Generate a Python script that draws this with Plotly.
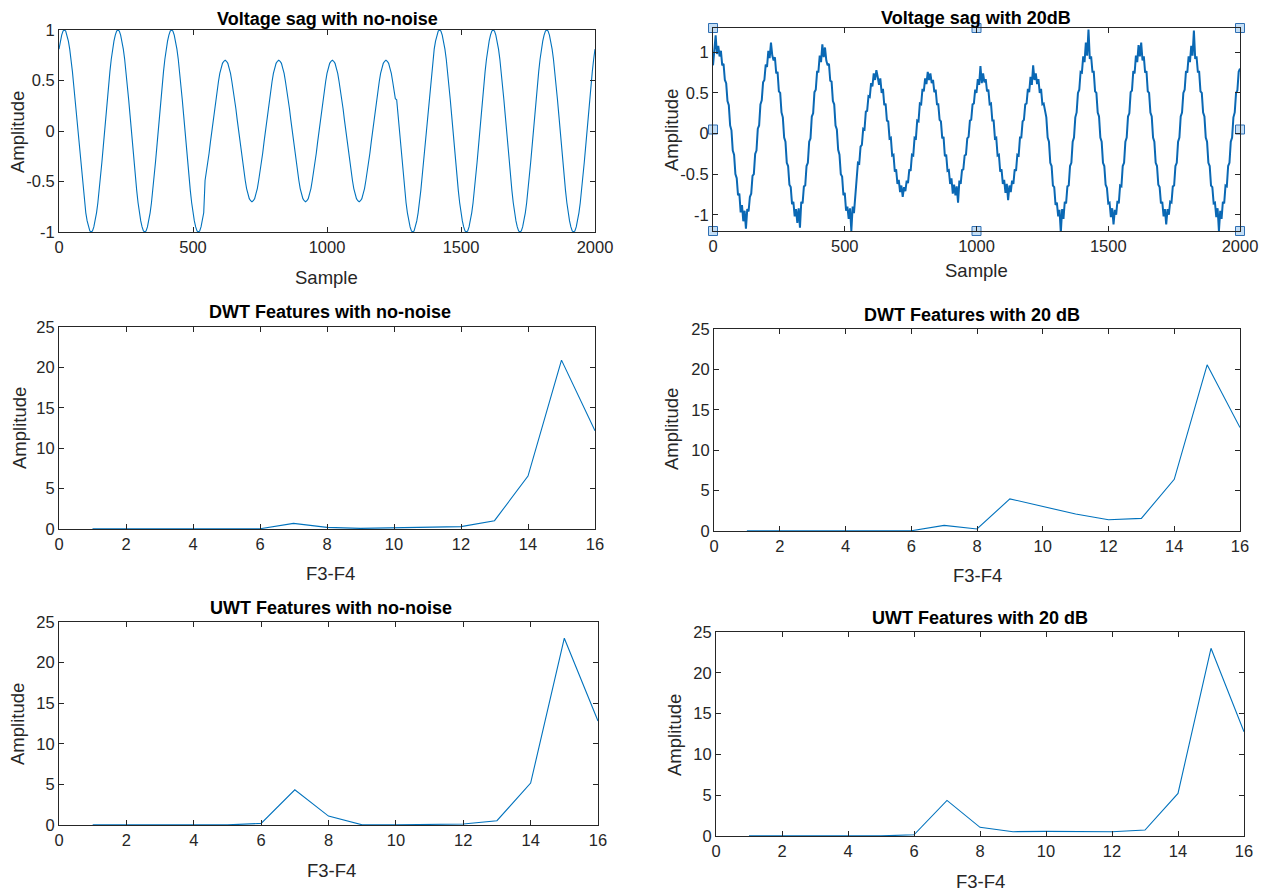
import plotly.graph_objects as go

W, H = 1268, 892
PAGE_OFF = 8  # default page margin around the figure
FIG_W, FIG_H = W - PAGE_OFF, H - PAGE_OFF

# ---------------- data ----------------
sample_idx = list(range(0, 2001, 5))

voltage_clean = [
 .81,.89,.95,.99,1,.99,.95,.89,.81,.71,.59,.45,.31,.16,0,-.16,-.31,-.45,-.59,-.71,-.81,-.89,-.95,-.99,-1,-.99,-.95,-.89,-.81,-.71,-.59,-.45,-.31,-.16,0,.16,.31,.45,.59,.71,
 .81,.89,.95,.99,1,.99,.95,.89,.81,.71,.59,.45,.31,.16,0,-.16,-.31,-.45,-.59,-.71,-.81,-.89,-.95,-.99,-1,-.99,-.95,-.89,-.81,-.71,-.59,-.45,-.31,-.16,0,.16,.31,.45,.59,.71,
 .81,.89,.95,.99,1,.99,.95,.89,.81,.71,.59,.45,.31,.16,0,-.16,-.31,-.45,-.59,-.71,-.81,-.89,-.95,-.99,-1,-.99,-.95,-.89,-.81,-.49,-.41,-.32,-.22,-.11,0,.11,.22,.32,.41,.49,
 .57,.62,.67,.69,.7,.69,.67,.62,.57,.49,.41,.32,.22,.11,0,-.11,-.22,-.32,-.41,-.49,-.57,-.62,-.67,-.69,-.7,-.69,-.67,-.62,-.57,-.49,-.41,-.32,-.22,-.11,0,.11,.22,.32,.41,.49,
 .57,.62,.67,.69,.7,.69,.67,.62,.57,.49,.41,.32,.22,.11,0,-.11,-.22,-.32,-.41,-.49,-.57,-.62,-.67,-.69,-.7,-.69,-.67,-.62,-.57,-.49,-.41,-.32,-.22,-.11,0,.11,.22,.32,.41,.49,
 .57,.62,.67,.69,.7,.69,.67,.62,.57,.49,.41,.32,.22,.11,0,-.11,-.22,-.32,-.41,-.49,-.57,-.62,-.67,-.69,-.7,-.69,-.67,-.62,-.57,-.49,-.41,-.32,-.22,-.11,0,.11,.22,.32,.41,.49,
 .57,.62,.67,.69,.7,.69,.67,.62,.57,.49,.41,.32,.31,.16,0,-.16,-.31,-.45,-.59,-.71,-.81,-.89,-.95,-.99,-1,-.99,-.95,-.89,-.81,-.71,-.59,-.45,-.31,-.16,0,.16,.31,.45,.59,.71,
 .81,.89,.95,.99,1,.99,.95,.89,.81,.71,.59,.45,.31,.16,0,-.16,-.31,-.45,-.59,-.71,-.81,-.89,-.95,-.99,-1,-.99,-.95,-.89,-.81,-.71,-.59,-.45,-.31,-.16,0,.16,.31,.45,.59,.71,
 .81,.89,.95,.99,1,.99,.95,.89,.81,.71,.59,.45,.31,.16,0,-.16,-.31,-.45,-.59,-.71,-.81,-.89,-.95,-.99,-1,-.99,-.95,-.89,-.81,-.71,-.59,-.45,-.31,-.16,0,.16,.31,.45,.59,.71,
 .81,.89,.95,.99,1,.99,.95,.89,.81,.71,.59,.45,.31,.16,0,-.16,-.31,-.45,-.59,-.71,-.81,-.89,-.95,-.99,-1,-.99,-.95,-.89,-.81,-.71,-.59,-.45,-.31,-.16,0,.16,.31,.45,.59,.71,
 .81,
]

voltage_20db = [
 .84,1.05,1.21,.98,1.08,.95,1.02,.84,.86,.66,.62,.40,.35,.10,.04,-.21,-.26,-.50,-.55,-.76,-.74,-.97,-.88,-1.08,-.95,-1.17,-.93,-.96,-.78,-.74,-.52,-.50,-.25,-.21,.06,.10,.36,.41,.63,.66,
 .85,.82,1.02,.93,1.12,.96,.90,.94,.74,.76,.52,.50,.26,.20,-.05,-.10,-.36,-.40,-.63,-.66,-.87,-.84,-1.02,-.93,-1.10,-.92,-1.16,-.84,-.86,-.65,-.64,-.40,-.36,-.10,-.06,.21,.25,.51,.54,.76,
 .76,.96,.88,1.10,.94,1.06,.90,.84,.86,.65,.64,.40,.36,.10,.05,-.20,-.26,-.50,-.53,-.76,-.73,-.95,-.90,-1.05,-.92,-1.20,-.90,-.98,-.74,-.55,-.36,-.37,-.16,-.14,.06,.05,.27,.28,.46,.45,
 .62,.58,.74,.66,.78,.70,.60,.68,.50,.55,.35,.37,.16,.15,-.06,-.05,-.27,-.26,-.47,-.44,-.62,-.57,-.72,-.64,-.78,-.66,-.71,-.58,-.61,-.44,-.46,-.26,-.27,-.05,-.06,.16,.15,.37,.36,.55,
 .52,.68,.61,.76,.66,.74,.62,.66,.51,.54,.36,.36,.17,.15,-.06,-.04,-.28,-.26,-.46,-.45,-.62,-.55,-.74,-.63,-.76,-.65,-.85,-.58,-.62,-.45,-.44,-.27,-.26,-.06,-.04,.16,.17,.36,.37,.54,
 .50,.67,.60,.83,.62,.74,.63,.67,.52,.54,.36,.37,.16,.16,-.06,-.05,-.27,-.26,-.47,-.44,-.62,-.57,-.73,-.62,-.82,-.64,-.72,-.58,-.62,-.44,-.46,-.26,-.27,-.05,-.05,.15,.17,.36,.37,.55,
 .51,.70,.60,.84,.66,.74,.61,.67,.50,.55,.36,.37,.27,.20,-.05,-.10,-.36,-.40,-.64,-.66,-.88,-.85,-1.02,-.94,-1.22,-.93,-1.05,-.84,-.86,-.65,-.64,-.40,-.36,-.10,-.05,.20,.26,.50,.54,.76,
 .75,.95,.88,1.12,.96,1.28,.92,.95,.76,.76,.52,.50,.26,.21,-.05,-.10,-.36,-.40,-.63,-.67,-.86,-.85,-1.03,-.92,-1.12,-.94,-1.00,-.83,-.86,-.64,-.65,-.40,-.36,-.10,-.05,.21,.25,.51,.53,.77,
 .74,.96,.88,1.09,.95,1.12,.90,.95,.75,.77,.52,.50,.26,.21,-.05,-.10,-.36,-.40,-.63,-.66,-.86,-.84,-1.02,-.93,-1.12,-.93,-1.00,-.84,-.85,-.65,-.64,-.40,-.36,-.10,-.05,.21,.26,.50,.54,.77,
 .75,.95,.88,1.08,.96,1.27,.92,.95,.76,.76,.52,.50,.26,.21,-.05,-.10,-.36,-.40,-.64,-.66,-.86,-.85,-1.03,-.92,-1.20,-.95,-1.05,-.84,-.86,-.64,-.65,-.40,-.36,-.10,-.05,.20,.26,.50,.53,.76,
 .80,
]

feature_idx = list(range(1, 17))
dwt_no_noise = [0.02, 0.02, 0.02, 0.02, 0.02, 0.03, 0.70, 0.20, 0.08, 0.15, 0.28, 0.30, 1.03, 6.55, 20.9, 12.15]
dwt_20db = [0.02, 0.02, 0.02, 0.02, 0.02, 0.03, 0.70, 0.25, 3.98, 3.00, 2.10, 1.40, 1.56, 6.40, 20.57, 12.8]
uwt_no_noise = [0.01, 0.01, 0.01, 0.01, 0.01, 0.20, 4.34, 1.10, 0.02, 0.02, 0.03, 0.12, 0.53, 5.16, 23.0, 12.8]
uwt_20db = [0.01, 0.01, 0.01, 0.01, 0.01, 0.15, 4.36, 1.06, 0.53, 0.57, 0.57, 0.53, 0.73, 5.22, 23.0, 12.77]

sample_ticks = [0, 500, 1000, 1500, 2000]
volt_ticks = [-1, -0.5, 0, 0.5, 1]
volt_ticktext = ["-1", "-0.5", "0", "0.5", "1"]
feat_xticks = [0, 2, 4, 6, 8, 10, 12, 14, 16]
feat_yticks = [0, 5, 10, 15, 20, 25]

titles = ["Voltage sag with no-noise", "Voltage sag with 20dB",
          "DWT Features with no-noise", "DWT Features with 20 dB",
          "UWT Features with no-noise", "UWT Features with 20 dB"]
xlabels = ["Sample", "Sample", "F3-F4", "F3-F4", "F3-F4", "F3-F4"]
ylabel = "Amplitude"

# ---------------- layout helpers (screen pixels -> paper fraction) ----------------
def px_x(p):
    return (p - PAGE_OFF) / FIG_W

def px_y(p):
    return 1 - (p - PAGE_OFF) / FIG_H

# panel boxes (left, right, top, bottom) in screen pixels, and label positions
panels = [
    dict(box=(59, 595, 30, 232), title=(327, 19), xl=(326, 277), yl=(18, 132)),
    dict(box=(713, 1240, 28, 231), title=(976, 18.5), xl=(976, 270), yl=(672, 130)),
    dict(box=(59, 595, 327, 529), title=(330, 312), xl=(330, 573), yl=(19, 428)),
    dict(box=(714, 1240, 329, 531), title=(972, 315), xl=(977, 575), yl=(671, 429)),
    dict(box=(59, 598, 622, 825), title=(331, 608), xl=(331, 870), yl=(17, 724)),
    dict(box=(716, 1244, 632, 836), title=(980, 618), xl=(980, 881), yl=(674, 735)),
]

LINE = "#0072BD"
AX = "#262626"
FONT = "Liberation Sans, Arial, Helvetica, sans-serif"

volt_range_clean = [-1, 1]
volt_range_noisy = [-1.2, 1.3]
feat_xrange = [0, 16]
feat_yrange = [0, 25]

fig = go.Figure()

series = [
    (sample_idx, voltage_clean, 1.1),
    (sample_idx, voltage_20db, 2.0),
    (feature_idx, dwt_no_noise, 1.1),
    (feature_idx, dwt_20db, 1.1),
    (feature_idx, uwt_no_noise, 1.1),
    (feature_idx, uwt_20db, 1.1),
]

for i, (xs, ys, lw) in enumerate(series):
    n = "" if i == 0 else str(i + 1)
    fig.add_trace(go.Scatter(x=xs, y=ys, mode="lines",
                             line=dict(color=LINE if i != 1 else "#0a68b4", width=lw),
                             xaxis="x" + n, yaxis="y" + n, showlegend=False,
                             hoverinfo="skip"))

# selection handles on the noisy panel (axes corners & mid-points)
ymid = (volt_range_noisy[0] + volt_range_noisy[1]) / 2
hx = [sample_ticks[0], sample_ticks[2], sample_ticks[4]] * 2 + [sample_ticks[0], sample_ticks[4]]
hy = [volt_range_noisy[1]] * 3 + [volt_range_noisy[0]] * 3 + [ymid, ymid]
fig.add_trace(go.Scatter(x=hx, y=hy, mode="markers", xaxis="x2", yaxis="y2",
                         marker=dict(symbol="square", size=9, color="#c4def5",
                                     line=dict(color="#2f6fb3", width=1)),
                         cliponaxis=False, showlegend=False, hoverinfo="skip"))

common = dict(showline=True, linecolor=AX, linewidth=1, mirror="ticks",
              ticks="inside", ticklen=5, tickcolor=AX, tickwidth=1,
              showgrid=False, zeroline=False, automargin=False,
              tickfont=dict(family=FONT, size=16.5, color=AX))

layout = dict(width=FIG_W, height=FIG_H, margin=dict(l=0, r=0, t=0, b=0, autoexpand=False),
              paper_bgcolor="white", plot_bgcolor="white", showlegend=False,
              font=dict(family=FONT, color=AX))

annotations = []
for i, p in enumerate(panels):
    n = "" if i == 0 else str(i + 1)
    l, r, t, b = p["box"]
    xa = dict(common, domain=[px_x(l), px_x(r)], anchor="y" + n)
    ya = dict(common, domain=[px_y(b), px_y(t)], anchor="x" + n)
    if i < 2:
        xa.update(range=[0, 2000], tickvals=sample_ticks)
        ya.update(range=volt_range_clean if i == 0 else volt_range_noisy,
                  tickvals=volt_ticks, ticktext=volt_ticktext)
    else:
        xa.update(range=feat_xrange, tickvals=feat_xticks)
        ya.update(range=feat_yrange, tickvals=feat_yticks)
    layout["xaxis" + n] = xa
    layout["yaxis" + n] = ya

    tx, ty = p["title"]
    annotations.append(dict(text="<b>" + titles[i] + "</b>", x=px_x(tx), y=px_y(ty),
                            xref="paper", yref="paper", xanchor="center", yanchor="middle",
                            showarrow=False, font=dict(family=FONT, size=18, color="#000000")))
    lx, ly = p["xl"]
    annotations.append(dict(text=xlabels[i], x=px_x(lx), y=px_y(ly),
                            xref="paper", yref="paper", xanchor="center", yanchor="middle",
                            showarrow=False, font=dict(family=FONT, size=18.5, color=AX)))
    yx, yy = p["yl"]
    annotations.append(dict(text=ylabel, x=px_x(yx), y=px_y(yy), textangle=-90,
                            xref="paper", yref="paper", xanchor="center", yanchor="middle",
                            showarrow=False, font=dict(family=FONT, size=18.5, color=AX)))

layout["annotations"] = annotations
fig.update_layout(**layout)

fig.write_html("out.html")
